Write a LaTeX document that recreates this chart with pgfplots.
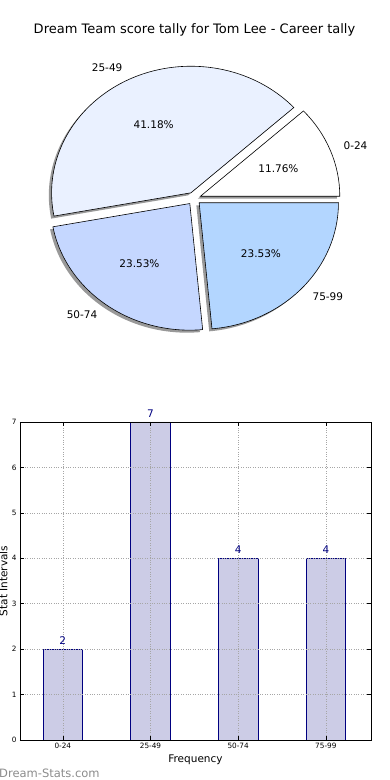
\documentclass[border=0pt]{standalone}
\usepackage{pgfplots}
\pgfplotsset{compat=1.18}
\usepackage{fontspec}
\setmainfont{DejaVu Sans}
\definecolor{sA}{RGB}{255,255,255}
\definecolor{sB}{RGB}{234,241,255}
\definecolor{sC}{RGB}{197,215,255}
\definecolor{sD}{RGB}{179,214,255}
\definecolor{barfill}{RGB}{204,204,230}
\definecolor{navy}{RGB}{0,0,128}

% data: counts per score interval
\def\vA{2}\def\vB{7}\def\vC{4}\def\vD{4}
\pgfmathsetmacro\tot{\vA+\vB+\vC+\vD}
\pgfmathsetmacro\aA{0}
\pgfmathsetmacro\aB{360*\vA/\tot}
\pgfmathsetmacro\aC{360*(\vA+\vB)/\tot}
\pgfmathsetmacro\aD{360*(\vA+\vB+\vC)/\tot}
\pgfmathsetmacro\aE{360}
\def\rx{139.3pt}\def\ry{126.6pt}

\newcommand\pieslice[5]{%
  \path[#3] (axis cs:{#4+0.05*cos((#1+#2)/2)},{#5+0.05*sin((#1+#2)/2)}) --
    (axis cs:{#4+0.05*cos((#1+#2)/2)+cos(#1)},{#5+0.05*sin((#1+#2)/2)+sin(#1)})
    arc[start angle=#1, end angle=#2, x radius=\rx, y radius=\ry] -- cycle;}
\newcommand\pielabel[5]{%
  \node[anchor=#3, inner sep=0pt, font=\fontsize{10.5}{12}\selectfont]
    at (axis cs:{#5*cos((#1+#2)/2)},{#5*sin((#1+#2)/2)}) {#4};}

\begin{document}
\begin{tikzpicture}
\useasboundingbox (0,0) rectangle (390pt,780pt);

\begin{axis}[at={(194pt,581.5pt)}, anchor=origin, x=139.3pt, y=126.6pt,
  xmin=-1.4, xmax=1.4, ymin=-1.3, ymax=1.3, hide axis, clip=false]
  % shadows
  \pieslice{\aA}{\aB}{fill=black!40}{-0.02}{-0.02}
  \pieslice{\aB}{\aC}{fill=black!40}{-0.02}{-0.02}
  \pieslice{\aC}{\aD}{fill=black!40}{-0.02}{-0.02}
  \pieslice{\aD}{\aE}{fill=black!40}{-0.02}{-0.02}
  % slices
  \pieslice{\aA}{\aB}{fill=sA, draw=black, line width=0.6pt}{0}{0}
  \pieslice{\aB}{\aC}{fill=sB, draw=black, line width=0.6pt}{0}{0}
  \pieslice{\aC}{\aD}{fill=sC, draw=black, line width=0.6pt}{0}{0}
  \pieslice{\aD}{\aE}{fill=sD, draw=black, line width=0.6pt}{0}{0}
  % labels
  \pielabel{\aA}{\aB}{west}{0-24}{1.15}
  \pielabel{\aB}{\aC}{east}{25-49}{1.15}
  \pielabel{\aC}{\aD}{east}{50-74}{1.15}
  \pielabel{\aD}{\aE}{west}{75-99}{1.15}
  \pielabel{\aA}{\aB}{center}{11.76\%}{0.65}
  \pielabel{\aB}{\aC}{center}{41.18\%}{0.65}
  \pielabel{\aC}{\aD}{center}{23.53\%}{0.65}
  \pielabel{\aD}{\aE}{center}{23.53\%}{0.65}
\end{axis}

\node[font=\fontsize{13}{15}\selectfont] at (194.5pt,750pt) {Dream Team score tally for Tom Lee - Career tally};

\begin{axis}[at={(20pt,40pt)}, anchor=south west, scale only axis,
  width=351pt, height=318pt,
  xmin=-0.488, xmax=3.515, ymin=0, ymax=7,
  xtick={0,1,2,3}, xticklabels={0-24,25-49,50-74,75-99}, ytick={0,1,...,7},
  grid=major, grid style={dotted, black!35, line width=0.5pt},
  axis on top,
  tick align=inside, major tick length=4pt,
  ticklabel style={font=\fontsize{7.3}{8}\selectfont},
  /pgf/number format/assume math mode=true,
  xlabel={Frequency}, ylabel={Stat Intervals},
  label style={font=\fontsize{10.5}{12}\selectfont},
  xlabel style={at={(axis description cs:0.5,-0.063)}, anchor=center},
  ylabel style={at={(axis description cs:-0.047,0.5)}, anchor=center},
  axis line style={black, line width=0.6pt},
  tick style={black, line width=0.5pt},
]
\addplot[ybar, bar width=0.45, fill=barfill, draw=navy, line width=0.6pt,
  nodes near coords,
  nodes near coords style={font=\fontsize{10.5}{12}\selectfont, text=navy, anchor=south, inner sep=0pt, yshift=4.5pt}]
  coordinates {(0,2) (1,7) (2,4) (3,4)};
\end{axis}

\node[anchor=west, inner sep=0pt, text=black!45, font=\fontsize{11.5}{13}\selectfont] at (-1pt,7pt) {Dream-Stats.com};
\end{tikzpicture}
\end{document}
